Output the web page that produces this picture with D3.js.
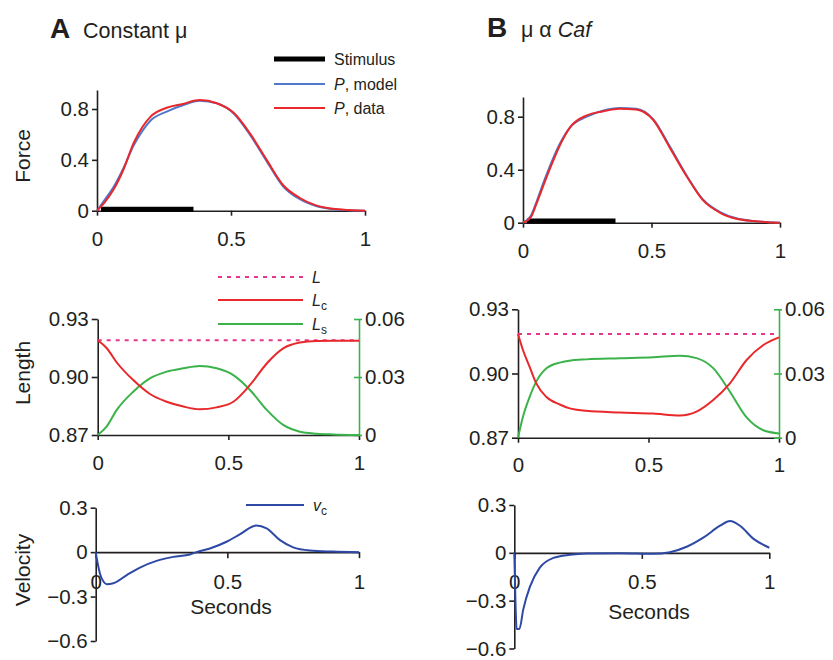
<!DOCTYPE html>
<html>
<head>
<meta charset="utf-8">
<script src="https://cdn.jsdelivr.net/npm/d3@7"></script>
<style>
  body { margin: 0; background: #fff; }
  svg { font-family: "Liberation Sans", Arial, sans-serif; }
</style>
</head>
<body>
<svg id="plot"></svg>
<script>
// ---- data ----
// Force panels (time in s)
const forceTimeA = [0,0.03,0.06,0.1,0.136,0.17,0.2,0.26,0.32,0.384,0.447,0.51,0.57,0.633,0.695,0.757,0.82,0.88,0.94,1];
const forceDataA = [0,0.07,0.16,0.33,0.53,0.66,0.74,0.81,0.84,0.87,0.845,0.77,0.61,0.4,0.2,0.1,0.04,0.015,0.005,0];
const forceModelA = [0,0.09,0.18,0.34,0.51,0.63,0.71,0.78,0.83,0.865,0.845,0.765,0.6,0.39,0.19,0.09,0.035,0.012,0.004,0];

const forceTimeB = [0,0.03,0.053,0.085,0.118,0.15,0.183,0.248,0.31,0.377,0.44,0.507,0.57,0.637,0.7,0.767,0.83,0.896,0.95,1];
const forceDataB = [0,0.04,0.146,0.31,0.47,0.61,0.72,0.81,0.84,0.86,0.855,0.775,0.57,0.35,0.17,0.075,0.03,0.012,0.004,0];
const forceModelB = [0,0.05,0.16,0.33,0.49,0.62,0.72,0.80,0.845,0.865,0.86,0.78,0.58,0.355,0.175,0.08,0.033,0.013,0.005,0];

const stimulus = [0.015, 0.36];
const stimulusLevel = 0.012;

// Length panels
const lengthTimeA = [0,0.034,0.073,0.136,0.2,0.264,0.328,0.39,0.455,0.519,0.583,0.647,0.71,0.774,0.838,0.9,1];
const lcA = [0.919,0.915,0.9075,0.8984,0.8912,0.8872,0.8847,0.8833,0.8843,0.8872,0.8959,0.907,0.9148,0.9178,0.9186,0.9187,0.9187];
const lsA = [0,0.0043,0.013,0.0224,0.0293,0.0328,0.0345,0.0357,0.0345,0.031,0.0233,0.013,0.0052,0.0017,0.0007,0.0003,0];
const totalLA = 0.919;

const lengthTimeB = [0,0.019,0.045,0.07,0.109,0.16,0.198,0.262,0.39,0.518,0.62,0.684,0.748,0.812,0.876,0.94,1];
const lcB = [0.9185,0.911,0.903,0.8954,0.889,0.8855,0.8837,0.8826,0.8818,0.8813,0.8804,0.8822,0.8876,0.8954,0.9063,0.9133,0.9169];
const lsB = [0,0.0098,0.0192,0.0262,0.0324,0.0351,0.036,0.0366,0.0371,0.0376,0.0383,0.0372,0.0325,0.0215,0.0095,0.0035,0.002];
const totalLB = 0.9185;

// Velocity panels
const velTimeA = [0,0.008,0.016,0.03,0.042,0.067,0.118,0.168,0.231,0.295,0.358,0.383,0.434,0.497,0.547,0.61,0.649,0.7,0.75,0.813,0.9,1];
const vcA = [0,-0.08,-0.144,-0.2,-0.216,-0.21,-0.155,-0.104,-0.059,-0.032,-0.016,0,0.025,0.07,0.12,0.18,0.16,0.081,0.032,0.011,0.004,0];

const velTimeB = [0,0.005,0.009,0.02,0.035,0.061,0.1,0.153,0.218,0.284,0.414,0.545,0.61,0.676,0.741,0.807,0.846,0.885,0.937,1];
const vcB = [0,-0.335,-0.477,-0.477,-0.356,-0.214,-0.093,-0.032,-0.012,-0.004,-0.002,-0.006,0.004,0.038,0.095,0.17,0.2,0.17,0.089,0.032];

// tick labels
const timeTicks = [0, 0.5, 1];
const forceTicks = [0, 0.4, 0.8];
const lengthTicks = [0.87, 0.90, 0.93];
const lsTicks = [0, 0.03, 0.06];
const velTicks = [0.3, 0, -0.3, -0.6];

// ---- style ----
const ink = "#231f20";
const red = "#e8282b";
const modelBlue = "#5078cc";
const vcBlue = "#2e48a6";
const green = "#3bb34a";
const pink = "#e8368f";
const tickFont = "20.5px";

const width = 833, height = 660;
const svg = d3.select("#plot")
    .attr("width", width)
    .attr("height", height)
    .attr("viewBox", [0, 0, width, height]);

const zip = (t, v) => t.map((d, i) => [d, v[i]]);

function styleAxis(g, color) {
  g.selectAll("path, line").attr("stroke", color).attr("stroke-width", 1.6);
  g.selectAll("text").attr("fill", ink)
    .style("font-size", tickFont).style("font-family", "inherit");
}

const fmt = d => d < 0 ? "\u2212" + d3.format("")(-d) : d3.format("")(d);

function plotLine(x, y, data, color, w, dash) {
  const line = d3.line().x(d => x(d[0])).y(d => y(d[1])).curve(d3.curveMonotoneX);
  const p = svg.append("path").datum(data)
      .attr("fill", "none").attr("stroke", color)
      .attr("stroke-width", w).attr("d", line);
  if (dash) p.attr("stroke-dasharray", dash);
  return p;
}

function yLabel(text, x, y) {
  svg.append("text")
      .attr("transform", `translate(${x},${y}) rotate(-90)`)
      .attr("text-anchor", "middle")
      .attr("fill", ink)
      .style("font-size", "21px")
      .text(text);
}

// ---- force panels ----
function forcePanel(px, py, top, t, data, model) {
  const x = d3.scaleLinear().domain([0, 1]).range(px);
  const y = d3.scaleLinear().domain([0, 0.8]).range(py);
  const yTop = y.invert(top);

  svg.append("g")
      .attr("transform", `translate(0,${y(0)})`)
      .call(d3.axisBottom(x).tickValues(timeTicks).tickFormat(d3.format("")).tickSize(5).tickSizeOuter(0).tickPadding(16))
      .call(g => styleAxis(g, ink));
  svg.append("g")
      .attr("transform", `translate(${x(0)},0)`)
      .call(d3.axisLeft(d3.scaleLinear().domain([0, yTop]).range([y(0), top]))
        .tickValues(forceTicks).tickFormat(d3.format("")).tickSize(5).tickSizeOuter(0).tickPadding(3))
      .call(g => styleAxis(g, ink));

  svg.append("line")
      .attr("x1", x(stimulus[0])).attr("x2", x(stimulus[1]))
      .attr("y1", y(stimulusLevel)).attr("y2", y(stimulusLevel))
      .attr("stroke", "#000").attr("stroke-width", 5);

  plotLine(x, y, zip(t, model), modelBlue, 2);
  plotLine(x, y, zip(t, data), red, 2);
}

forcePanel([97, 365], [210.7, 109], 90, forceTimeA, forceDataA, forceModelA);
forcePanel([523, 780], [222.7, 116.7], 97, forceTimeB, forceDataB, forceModelB);

// ---- length panels ----
function lengthPanel(px, py, t, lc, ls, total) {
  const x = d3.scaleLinear().domain([0, 1]).range(px);
  const y = d3.scaleLinear().domain([0.87, 0.93]).range(py);
  const y2 = d3.scaleLinear().domain([0, 0.06]).range(py);

  svg.append("g")
      .attr("transform", `translate(0,${py[0]})`)
      .call(d3.axisBottom(x).tickValues(timeTicks).tickFormat(d3.format("")).tickSize(5).tickSizeOuter(0).tickPadding(15))
      .call(g => styleAxis(g, ink));
  svg.append("g")
      .attr("transform", `translate(${px[0]},0)`)
      .call(d3.axisLeft(y).tickValues(lengthTicks).tickFormat(d3.format(".2f")).tickSize(6).tickSizeOuter(0).tickPadding(3))
      .call(g => styleAxis(g, ink));
  const right = svg.append("g")
      .attr("transform", `translate(${px[1]},0)`)
      .call(d3.axisRight(y2).tickValues(lsTicks).tickFormat(d3.format("")).tickSize(3).tickSizeOuter(0).tickPadding(3))
      .call(g => styleAxis(g, green));
  right.selectAll(".tick line").attr("x1", -5);

  plotLine(x, y, [[0, total], [1, total]], pink, 2, "4,5");
  plotLine(x, y2, zip(t, ls), green, 2);
  plotLine(x, y, zip(t, lc), red, 2);
}

lengthPanel([97.7, 359], [435, 319], lengthTimeA, lcA, lsA, totalLA);
lengthPanel([518, 779], [437.7, 309.3], lengthTimeB, lcB, lsB, totalLB);

// ---- velocity panels ----
function velocityPanel(px, py, t, vc, secX, secY) {
  const x = d3.scaleLinear().domain([0, 1]).range(px);
  const y = d3.scaleLinear().domain([0.3, -0.6]).range(py);

  svg.append("g")
      .attr("transform", `translate(0,${y(0)})`)
      .call(d3.axisBottom(x).tickValues(timeTicks).tickFormat(d3.format("")).tickSize(6).tickSizeOuter(0).tickPadding(16))
      .call(g => styleAxis(g, ink));
  svg.append("g")
      .attr("transform", `translate(${px[0]},0)`)
      .call(d3.axisLeft(y).tickValues(velTicks).tickFormat(fmt).tickSize(5).tickSizeOuter(0).tickPadding(3))
      .call(g => styleAxis(g, ink));

  plotLine(x, y, zip(t, vc), vcBlue, 2);

  svg.append("text")
      .attr("x", secX).attr("y", secY)
      .attr("text-anchor", "middle").attr("fill", ink)
      .style("font-size", "21px")
      .text("Seconds");
}

velocityPanel([95.7, 359], [507.7, 641], velTimeA, vcA, 231, 614);
velocityPanel([514.3, 769.3], [505, 648.5], velTimeB, vcB, 649, 619);

// ---- axis titles ----
yLabel("Force", 30, 156);
yLabel("Length", 30, 373);
yLabel("Velocity", 30, 570);

// ---- panel titles ----
svg.append("text").attr("x", 50).attr("y", 38).attr("fill", ink)
    .style("font-size", "28px").style("font-weight", "bold").text("A");
svg.append("text").attr("x", 83).attr("y", 38).attr("fill", ink)
    .style("font-size", "21.5px").text("Constant \u03bc");

svg.append("text").attr("x", 487).attr("y", 37).attr("fill", ink)
    .style("font-size", "28px").style("font-weight", "bold").text("B");
const tB = svg.append("text").attr("x", 521).attr("y", 37).attr("fill", ink)
    .style("font-size", "21.5px");
tB.append("tspan").text("\u03bc \u03b1 ");
tB.append("tspan").style("font-style", "italic").text("Caf");

// ---- legends ----
function legendRow(x1, x2, y, color, w, dash, parts) {
  const l = svg.append("line").attr("x1", x1).attr("x2", x2).attr("y1", y).attr("y2", y)
      .attr("stroke", color).attr("stroke-width", w);
  if (dash) l.attr("stroke-dasharray", dash);
  const t = svg.append("text").attr("x", x2 + 9).attr("y", y + 5.5)
      .attr("fill", ink).style("font-size", "16px");
  parts.forEach(p => {
    const s = t.append("tspan").text(p.text);
    if (p.italic) s.style("font-style", "italic");
    if (p.sub) s.attr("dy", 4).style("font-size", "12px");
  });
}

legendRow(274, 325, 59, "#000", 5, null, [{text: "Stimulus"}]);
legendRow(274, 325, 84, modelBlue, 2, null, [{text: "P", italic: true}, {text: ", model"}]);
legendRow(274, 325, 108, red, 2, null, [{text: "P", italic: true}, {text: ", data"}]);

legendRow(218, 303, 277, pink, 2, "4,5", [{text: "L", italic: true}]);
legendRow(218, 303, 300, red, 2, null, [{text: "L", italic: true}, {text: "c", sub: true}]);
legendRow(218, 303, 324, green, 2, null, [{text: "L", italic: true}, {text: "s", sub: true}]);

legendRow(246, 304, 505, vcBlue, 2, null, [{text: "v", italic: true}, {text: "c", sub: true}]);
</script>
</body>
</html>
